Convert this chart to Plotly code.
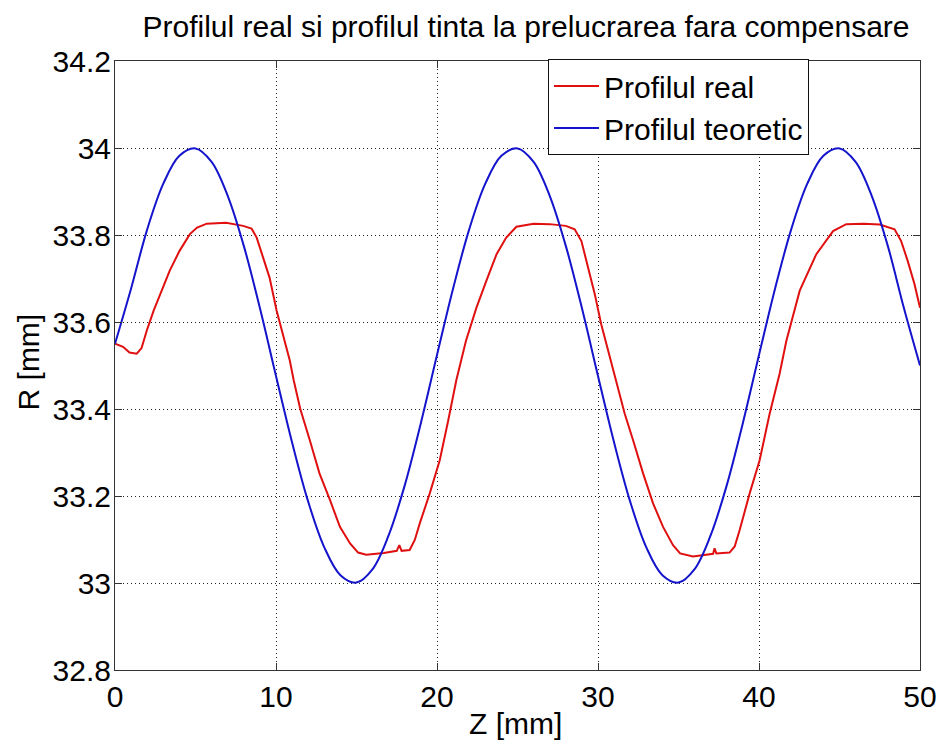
import plotly.graph_objects as go

# ---- data ----
z_teoretic = list(range(0, 51))
r_teoretic = [
    33.550, 33.677, 33.813, 33.918, 33.982, 33.999, 33.968, 33.890, 33.775, 33.632,
    33.476, 33.323, 33.187, 33.082, 33.018, 33.001, 33.032, 33.110, 33.225, 33.368,
    33.524, 33.677, 33.813, 33.918, 33.982, 33.999, 33.968, 33.890, 33.775, 33.632,
    33.476, 33.323, 33.187, 33.082, 33.018, 33.001, 33.032, 33.110, 33.225, 33.368,
    33.524, 33.677, 33.813, 33.918, 33.982, 33.999, 33.968, 33.890, 33.775, 33.632,
    33.500,
]

z_real = [
    0, 0.5, 0.9, 1.35, 1.65, 1.97, 2.4, 2.8, 3.4, 4.0, 4.65, 5.1, 5.7, 6.9, 7.96,
    8.48, 8.8, 9.2, 9.6, 10.04, 10.45, 10.86, 11.1, 11.5, 12.1, 12.7, 13.35, 13.97,
    14.6, 15.1, 15.6, 16.7, 17.5, 17.66, 17.8, 18.3, 18.62, 18.93, 19.55, 20.17,
    20.7, 21.2, 21.8, 22.45, 23.07, 23.7, 24.3, 24.93, 26.0, 27.0, 28.0, 28.55,
    28.97, 29.38, 29.8, 30.2, 30.6, 31.14, 31.66, 32.18, 32.8, 33.42, 34.04, 34.66,
    35.1, 35.9, 36.7, 37.15, 37.24, 37.35, 38.17, 38.49, 38.8, 39.42, 40.04, 40.66,
    41.28, 41.7, 42.53, 43.56, 44.6, 45.42, 46.5, 47.5, 48.42, 48.83, 49.24, 49.66,
    50.0,
]
r_real = [
    33.550, 33.543, 33.530, 33.527, 33.540, 33.580, 33.626, 33.664, 33.718, 33.763,
    33.802, 33.817, 33.826, 33.828, 33.821, 33.815, 33.794, 33.748, 33.702, 33.626,
    33.568, 33.511, 33.466, 33.401, 33.328, 33.252, 33.191, 33.129, 33.091, 33.070,
    33.065, 33.069, 33.074, 33.087, 33.074, 33.076, 33.099, 33.137, 33.206, 33.282,
    33.374, 33.466, 33.557, 33.633, 33.695, 33.756, 33.794, 33.819, 33.826, 33.825,
    33.821, 33.813, 33.786, 33.725, 33.664, 33.595, 33.538, 33.466, 33.389, 33.328,
    33.252, 33.183, 33.129, 33.087, 33.068, 33.061, 33.065, 33.067, 33.080, 33.068,
    33.070, 33.084, 33.122, 33.206, 33.282, 33.389, 33.481, 33.557, 33.672, 33.756,
    33.809, 33.825, 33.826, 33.824, 33.813, 33.786, 33.740, 33.687, 33.633,
]

x_ticks = [0, 10, 20, 30, 40, 50]
x_tick_labels = ["0", "10", "20", "30", "40", "50"]
y_ticks = [32.8, 33.0, 33.2, 33.4, 33.6, 33.8, 34.0, 34.2]
y_tick_labels = ["32.8", "33", "33.2", "33.4", "33.6", "33.8", "34", "34.2"]

FONT = "Liberation Sans, Arial, Helvetica, sans-serif"
FS = 30

fig = go.Figure()
fig.add_trace(go.Scatter(
    x=z_real, y=r_real, mode="lines", name="Profilul real",
    line=dict(color="#e01010", width=2),
))
fig.add_trace(go.Scatter(
    x=z_teoretic, y=r_teoretic, mode="lines", name="Profilul teoretic",
    line=dict(color="#1414cc", width=2, shape="spline", smoothing=1.0),
))

axis_common = dict(
    showline=True, linecolor="#333333", linewidth=1, mirror="allticks",
    ticks="inside", ticklen=7, tickcolor="#333333", tickwidth=1,
    showgrid=True, gridcolor="#222222", gridwidth=1, griddash="1px,3px",
    zeroline=False, automargin=False,
    tickfont=dict(family=FONT, size=FS, color="black"),
)

fig.update_xaxes(range=[0, 50], tickvals=x_ticks, ticktext=x_tick_labels, **axis_common)
fig.update_yaxes(range=[32.8, 34.2], tickvals=y_ticks, ticktext=y_tick_labels,
                 ticklabelstandoff=-3, **axis_common)

fig.update_layout(
    width=942, height=740,
    margin=dict(l=115, r=22, t=61, b=70),
    paper_bgcolor="white", plot_bgcolor="white",
    font=dict(family=FONT, size=FS, color="black"),
    title=dict(
        text="Profilul real si profilul tinta la prelucrarea fara compensare",
        x=526 / 942, xanchor="center", y=1 - 26 / 740, yanchor="middle",
        font=dict(family=FONT, size=FS, color="black"),
    ),
    legend=dict(
        x=(548 - 115) / 805, y=1 - (59 - 61) / 609, xanchor="left", yanchor="top",
        bgcolor="white", bordercolor="#111111", borderwidth=1,
        font=dict(family=FONT, size=FS, color="black"),
        itemwidth=45, tracegroupgap=0,
    ),
    showlegend=True,
    annotations=[
        dict(text="Z [mm]", xref="paper", yref="paper", x=0.497, y=(670 - 723) / 609,
             xanchor="center", yanchor="middle", showarrow=False,
             font=dict(family=FONT, size=FS, color="black")),
        dict(text="R [mm]", xref="paper", yref="paper", x=(28 - 115) / 805, y=0.505,
             xanchor="center", yanchor="middle", showarrow=False, textangle=-90,
             font=dict(family=FONT, size=FS, color="black")),
    ],
)

fig.write_html("out.html")
